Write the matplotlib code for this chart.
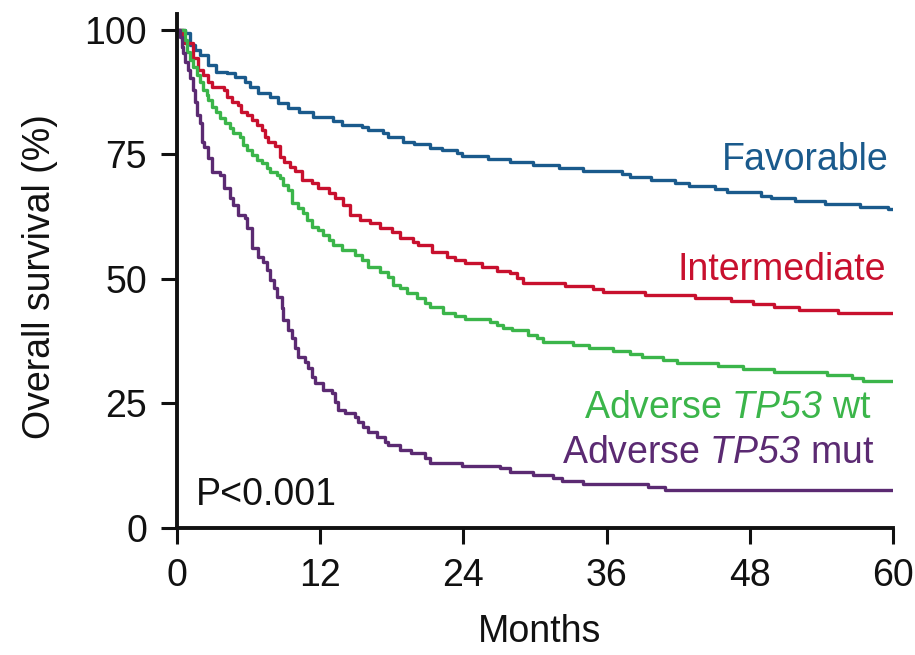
import matplotlib
matplotlib.use("Agg")
import matplotlib.pyplot as plt
from matplotlib import font_manager

# ---------------- data ----------------
fav_t = [0, 0.7, 1.1, 1.5, 1.9, 2.6, 3.3, 4.2, 4.9, 5.7, 6.1, 6.8, 7.8, 8.5, 9.3, 10.2, 11.4, 13.1, 13.8, 15.5,
         16.0, 17.3, 17.7, 18.9, 19.9, 21.2, 22.2, 23.5, 23.9, 26.1, 27.9, 29.8, 32.0, 34.0, 37.3, 38.0, 39.7,
         41.7, 42.9, 45.1, 46.1, 48.9, 49.8, 51.8, 54.3, 57.2, 59.6, 60.0]
fav_s = [100, 99.3, 97.0, 96.0, 95.0, 93.0, 91.6, 91.4, 90.6, 89.6, 88.6, 87.3, 86.5, 85.3, 84.3, 83.5, 82.5,
         81.7, 81.0, 80.5, 80.0, 79.3, 78.5, 77.5, 77.0, 76.3, 75.9, 75.3, 74.7, 74.1, 73.5, 72.9, 72.3, 71.7,
         71.1, 70.5, 69.9, 69.3, 68.7, 68.1, 67.5, 66.7, 66.3, 65.7, 65.0, 64.5, 64.1, 64.1]

int_t = [0, 0.5, 1.3, 1.8, 2.2, 2.6, 2.9, 3.9, 4.2, 4.6, 5.1, 5.4, 5.9, 6.3, 6.7, 7.1, 7.4, 7.6, 8.2, 8.6,
         9.0, 9.5, 9.9, 10.5, 11.3, 11.8, 12.7, 13.2, 13.9, 14.5, 15.3, 16.2, 17.0, 18.0, 18.7, 19.8, 20.2,
         21.4, 22.6, 23.3, 24.1, 25.6, 26.8, 27.9, 28.5, 29.0, 32.5, 34.9, 35.7, 39.2, 43.4, 46.4, 48.3, 50.0,
         52.1, 55.4, 60.0]
int_s = [100, 97.3, 94.4, 92.0, 91.0, 89.6, 88.6, 88.0, 86.5, 85.5, 84.9, 83.5, 82.9, 81.9, 80.9, 79.9, 78.5,
         77.5, 76.7, 74.5, 73.5, 72.5, 71.7, 69.9, 69.3, 68.3, 67.3, 66.3, 64.9, 62.9, 61.8, 61.2, 60.2, 59.4,
         58.2, 57.4, 56.8, 55.4, 54.4, 53.8, 53.2, 52.4, 51.6, 51.2, 50.2, 49.2, 48.6, 48.0, 47.4, 46.8, 46.2,
         45.6, 45.0, 44.4, 43.8, 43.2, 43.2]

wt_t = [0, 0.7, 0.8, 1.1, 1.3, 1.7, 1.9, 2.2, 2.5, 2.6, 2.9, 3.3, 3.6, 4.0, 4.4, 4.7, 5.3, 5.5, 5.9, 6.3,
        6.7, 7.1, 7.5, 7.8, 8.4, 8.6, 8.9, 9.3, 9.6, 10.1, 10.6, 10.9, 11.3, 11.8, 12.2, 12.7, 13.1, 13.8,
        14.9, 15.5, 16.0, 17.0, 17.7, 18.1, 18.7, 19.3, 20.1, 20.8, 21.2, 22.3, 23.3, 24.1, 26.2, 26.8, 27.3,
        28.1, 29.4, 30.2, 30.7, 33.2, 34.5, 36.5, 38.0, 39.0, 40.7, 41.9, 45.3, 47.4, 50.0, 54.5, 56.6, 57.5,
        60.0]
wt_s = [100, 98.0, 95.6, 94.0, 92.6, 91.0, 89.6, 88.0, 87.0, 85.9, 84.5, 83.5, 82.3, 81.3, 80.3, 79.3, 78.5,
        76.9, 75.9, 74.9, 73.9, 73.3, 72.3, 71.5, 70.9, 70.3, 68.9, 67.9, 65.3, 64.3, 63.3, 61.8, 60.4, 59.8,
        58.8, 57.8, 56.8, 55.8, 54.8, 53.8, 52.4, 51.4, 50.3, 48.8, 48.2, 47.2, 46.2, 45.2, 44.4, 43.2, 42.6,
        42.0, 41.4, 40.8, 40.2, 39.8, 38.8, 38.2, 37.3, 36.7, 36.1, 35.5, 34.9, 34.3, 33.7, 33.1, 32.5, 31.9,
        31.3, 30.7, 30.1, 29.5, 29.5]

mut_t = [0, 0.25, 0.4, 0.5, 0.7, 0.9, 1.1, 1.3, 1.5, 1.7, 1.9, 2.1, 2.3, 2.6, 2.9, 3.6, 3.9, 4.4, 4.7, 5.1,
         5.7, 5.9, 6.3, 6.8, 7.2, 7.5, 7.8, 8.1, 8.4, 8.8, 8.9, 9.3, 9.6, 9.9, 10.1, 10.7, 11.0, 11.3, 11.6,
         12.2, 13.0, 13.2, 13.5, 14.1, 14.9, 15.2, 15.6, 16.0, 16.8, 17.4, 17.7, 18.7, 19.6, 20.8, 21.2, 23.9,
         27.1, 27.9, 29.8, 31.5, 32.3, 34.0, 39.5, 40.9, 60.0]
mut_s = [100, 98.6, 96.6, 95.4, 93.6, 92.0, 90.4, 88.0, 85.5, 82.9, 81.3, 77.5, 76.5, 74.3, 71.5, 70.9, 68.3,
         66.3, 64.9, 62.9, 62.2, 60.2, 56.2, 54.4, 53.4, 51.8, 49.8, 48.2, 46.4, 44.2, 41.8, 39.8, 38.2, 36.1,
         34.3, 33.3, 32.1, 30.3, 29.1, 27.7, 27.1, 25.3, 23.7, 23.1, 22.3, 21.3, 20.3, 19.3, 18.3, 17.3, 16.7,
         15.7, 15.1, 14.1, 13.1, 12.4, 12.0, 11.2, 10.6, 10.0, 9.4, 8.8, 8.2, 7.6, 7.6]

x_ticks = [0, 12, 24, 36, 48, 60]
y_ticks = [0, 25, 50, 75, 100]

# ---------------- style ----------------
names = {f.name for f in font_manager.fontManager.ttflist}
fam = "Liberation Sans Narrow" if "Liberation Sans Narrow" in names else "Liberation Sans"
plt.rcParams["font.family"] = [fam, "DejaVu Sans"]
plt.rcParams["mathtext.fontset"] = "custom"
plt.rcParams["mathtext.rm"] = fam + ":italic"
plt.rcParams["mathtext.it"] = fam + ":italic"

c_fav = "#1a5a8c"
c_int = "#c8102e"
c_wt = "#3bb54a"
c_mut = "#5b2a72"
c_ax = "#111111"

fig = plt.figure(figsize=(9.15, 6.55), dpi=100)
ax = fig.add_axes([177 / 915, 127 / 655, 716 / 915, 514 / 655])

lw = 2.4
ax.step(fav_t, fav_s, where="post", color=c_fav, lw=lw)
ax.step(int_t, int_s, where="post", color=c_int, lw=lw)
ax.step(wt_t, wt_s, where="post", color=c_wt, lw=lw)
ax.step(mut_t, mut_s, where="post", color=c_mut, lw=lw)

ax.set_xlim(0, 60)
ax.set_ylim(0, 103.2)
ax.set_xticks(x_ticks)
ax.set_yticks(y_ticks)
for s in ["top", "right"]:
    ax.spines[s].set_visible(False)
for s in ["left", "bottom"]:
    ax.spines[s].set_linewidth(2.8)
    ax.spines[s].set_color(c_ax)
ax.tick_params(direction="out", length=11.5, width=2.2, color=c_ax,
               labelsize=27, pad=10, labelcolor=c_ax)

fs = 27
ax.text(59.6, 73.9, "Favorable", color=c_fav, fontsize=fs, ha="right", va="center")
ax.text(59.4, 51.8, "Intermediate", color=c_int, fontsize=fs, ha="right", va="center")
ax.text(58.2, 24.0, r"Adverse $TP53$ wt", color=c_wt, fontsize=fs, ha="right", va="center")
ax.text(58.4, 15.0, r"Adverse $TP53$ mut", color=c_mut, fontsize=fs, ha="right", va="center")
ax.text(1.6, 6.6, "P<0.001", color=c_ax, fontsize=fs, ha="left", va="center")

fig.text(40 / 915, 1 - 277 / 655, "Overall survival (%)", rotation=90, fontsize=27,
         ha="center", va="center", color=c_ax)
fig.text(540 / 915, 1 - 632 / 655, "Months", fontsize=27, ha="center", va="center", color=c_ax)

fig.savefig("out.png", dpi=100)
